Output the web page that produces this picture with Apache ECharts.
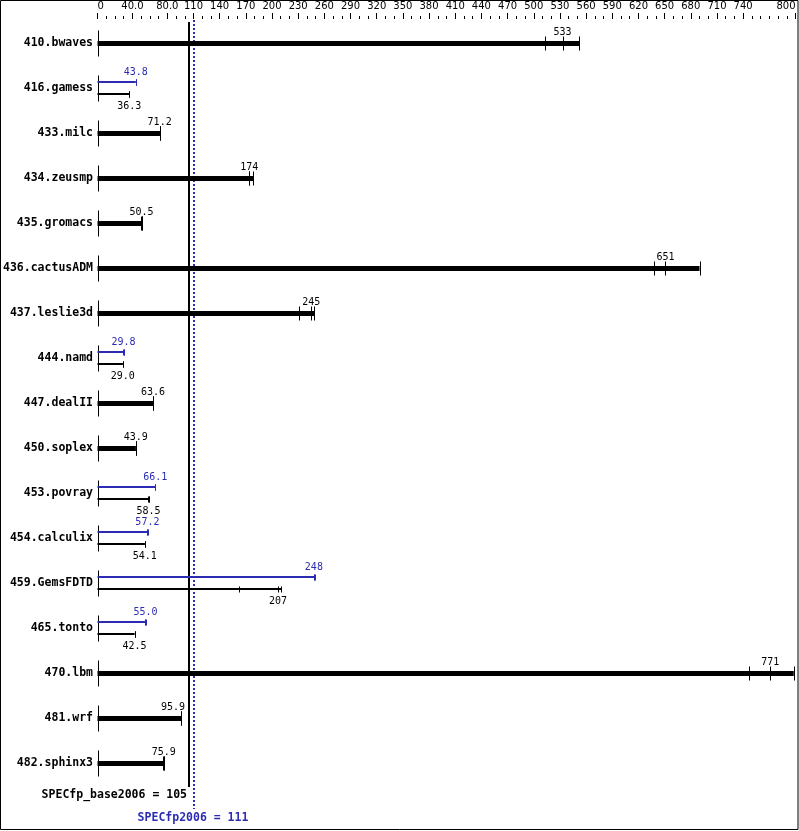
<!DOCTYPE html>
<html>
<head>
<meta charset="utf-8">
<script src="https://cdn.jsdelivr.net/npm/echarts@6/dist/echarts.min.js"></script>
<style>html,body{margin:0;padding:0;background:#fff}#c{width:799px;height:831px}</style>
</head>
<body>
<div id="c"></div>
<script>
const categories = ['410.bwaves','416.gamess','433.milc','434.zeusmp','435.gromacs','436.cactusADM','437.leslie3d','444.namd','447.dealII','450.soplex','453.povray','454.calculix','459.GemsFDTD','465.tonto','470.lbm','481.wrf','482.sphinx3'];
const baseValues = [533, 36.3, 71.2, 174, 50.5, 651, 245, 29.0, 63.6, 43.9, 58.5, 54.1, 207, 42.5, 771, 95.9, 75.9];
const peakValues = [null, 43.8, null, null, null, null, null, 29.8, null, null, 66.1, 57.2, 248, 55.0, null, null, null];
const baseRuns = [
  [513, 533, 552],
  [36.2, 36.3, 36.4],
  [71.2, 71.2, 71.6],
  [174, 174, 178.5],
  [50.4, 50.5, 51.0],
  [638, 651, 690],
  [231, 245, 248.5],
  [29.0, 29.0, 29.1],
  [63.2, 63.6, 63.8],
  [43.7, 43.9, 44.0],
  [58.4, 58.5, 58.7],
  [54.0, 54.1, 54.3],
  [162.5, 207, 210.3],
  [42.4, 42.5, 42.6],
  [747, 771, 798],
  [95.7, 95.9, 96.1],
  [75.5, 75.9, 75.9]
];
const peakRuns = [
  null, [43.7, 43.8, 43.9], null, null, null, null, null,
  [29.7, 29.8, 29.9], null, null, [66.0, 66.1, 66.2], [57.1, 57.2, 57.3],
  [248, 248, 249], [54.9, 55.0, 55.1], null, null, null
];
const refNames = ['SPECfp_base2006', 'SPECfp2006'];
const refValues = [105, 111];
const tickLabels = [0, 40, 80, 110, 140, 170, 200, 230, 260, 290, 320, 350, 380, 410, 440, 470, 500, 530, 560, 590, 620, 650, 680, 710, 740, 800];

const BLUE = '#2b2bb4';
const BLACK = '#000';
const VFONT = '10px "DejaVu Sans Mono"';
const BFONT = 'bold 11.5px "DejaVu Sans Mono"';
const CHARW = 6.02;

function fmt(v) { return v >= 100 ? v.toFixed(0) : v.toFixed(1); }
function px(x) { return Math.round(x) + 0.5; }

function renderBench(params, api) {
  const i = params.dataIndex;
  const origin = api.coord([0, i]);
  const cy = origin[1];
  const x0 = px(origin[0]);
  const xRef = api.coord([refValues[0], i])[0];
  const ch = [];
  ch.push({type: 'line', shape: {x1: x0, y1: cy - 13, x2: x0, y2: cy + 13}, style: {stroke: BLACK, lineWidth: 1}});
  function drawRuns(runs, value, color, yc, h, tickH, labelDy) {
    const maxV = Math.max.apply(null, runs);
    const xe = api.coord([maxV, i])[0];
    ch.push({type: 'rect', shape: {x: origin[0], y: Math.floor(yc - h / 2), width: xe - origin[0], height: h}, style: {fill: color}});
    runs.forEach(function (r) {
      const xr = px(api.coord([r, i])[0]);
      ch.push({type: 'line', shape: {x1: xr, y1: yc - tickH, x2: xr, y2: yc + tickH}, style: {stroke: color, lineWidth: 1}});
    });
    const txt = fmt(value);
    let xv = api.coord([value, i])[0];
    const half = txt.length * CHARW / 2;
    if (xv - half < xRef + 2 && xv + half > xRef - 3) {
      xv = xRef - 4 - half;
    }
    ch.push({type: 'text', style: {text: txt, x: xv, y: cy + labelDy, fill: color, font: VFONT, align: 'center', verticalAlign: 'middle'}});
  }
  if (peakValues[i] == null) {
    drawRuns(baseRuns[i], baseValues[i], BLACK, cy, 5, 7, -11);
  } else {
    drawRuns(peakRuns[i], peakValues[i], BLUE, cy - 6, 2, 3, -16);
    drawRuns(baseRuns[i], baseValues[i], BLACK, cy + 6, 2, 3, 18);
  }
  return {type: 'group', children: ch};
}

function renderRef(params, api) {
  const i = params.dataIndex;
  const cs = params.coordSys;
  const x = api.coord([refValues[i], 0])[0];
  const top = cs.y, bottom = cs.y + cs.height;
  const ch = [];
  const xl = Math.round(x);
  if (i === 0) {
    ch.push({type: 'line', shape: {x1: xl, y1: top + 1, x2: xl, y2: bottom + 1}, style: {stroke: BLACK, lineWidth: 2}});
    ch.push({type: 'text', style: {text: refNames[i] + ' = ' + refValues[i], x: xl - 2, y: bottom + 9, fill: BLACK, font: BFONT, align: 'right', verticalAlign: 'middle'}});
  } else {
    ch.push({type: 'line', shape: {x1: xl, y1: top - 1, x2: xl, y2: bottom + 23}, style: {stroke: BLUE, lineWidth: 2, lineDash: [2, 2]}});
    ch.push({type: 'text', style: {text: refNames[i] + ' = ' + refValues[i], x: xl - 1, y: bottom + 32, fill: BLUE, font: BFONT, align: 'center', verticalAlign: 'middle'}});
  }
  return {type: 'group', children: ch};
}

const chart = echarts.init(document.getElementById('c'), null, {renderer: 'canvas'});
chart.setOption({
  animation: false,
  backgroundColor: '#fff',
  grid: {left: 97.5, top: 21, width: 698, height: 765, containLabel: false},
  xAxis: [
    {
      type: 'value', position: 'top', min: 0, max: 800, interval: 10, offset: 2,
      axisLine: {show: false}, splitLine: {show: false},
      axisTick: {show: true, length: 3, lineStyle: {color: BLACK, width: 1}},
      axisLabel: {show: false}
    },
    {
      type: 'value', position: 'top', min: 0, max: 800, offset: 2,
      axisLine: {show: false}, splitLine: {show: false},
      axisTick: {show: true, length: 6, customValues: tickLabels, lineStyle: {color: BLACK, width: 1}},
      axisLabel: {
        show: true, customValues: tickLabels, margin: 8, color: BLACK,
        fontFamily: 'DejaVu Sans', fontSize: 10,
        alignMinLabel: 'left', alignMaxLabel: 'right',
        formatter: function (v) { return v === 0 ? '0' : (v < 100 ? v.toFixed(1) : String(v)); }
      }
    }
  ],
  yAxis: {
    type: 'category', data: categories, inverse: true,
    axisLine: {show: false}, axisTick: {show: false}, splitLine: {show: false},
    axisLabel: {margin: 4.5, color: BLACK, fontFamily: 'DejaVu Sans Mono', fontWeight: 'bold', fontSize: 11.5}
  },
  graphic: [{
    type: 'rect', shape: {x: 0.5, y: 0.5, width: 797.5, height: 829}, style: {fill: 'none', stroke: BLACK, lineWidth: 1}, z: 100
  }],
  series: [
    {
      type: 'custom', name: 'ref', xAxisIndex: 0, renderItem: renderRef, z: 1,
      data: refValues.map(function (v) { return [v, 0]; }), encode: {x: 0, y: 1}
    },
    {
      type: 'custom', name: 'bench', xAxisIndex: 0, renderItem: renderBench, z: 2,
      data: categories.map(function (c, i) { return [Math.max.apply(null, baseRuns[i]), i]; }), encode: {x: 0, y: 1}
    }
  ]
});
</script>
</body>
</html>
